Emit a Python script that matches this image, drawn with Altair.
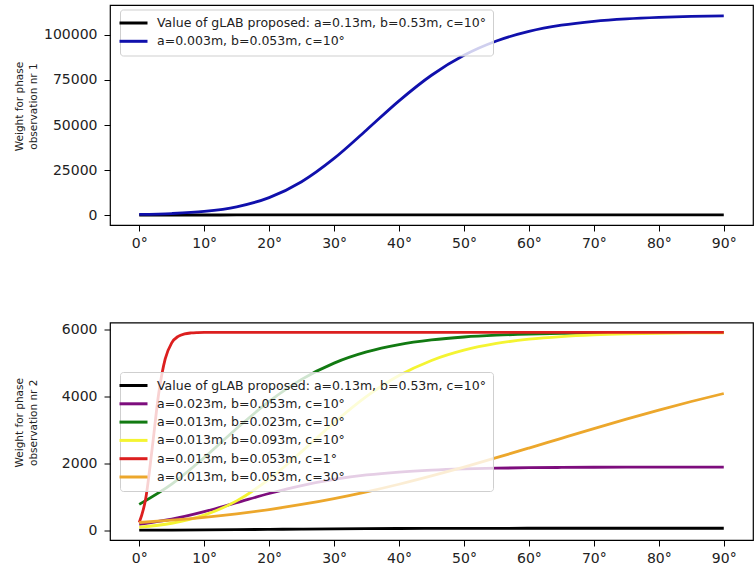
import altair as alt
import pandas as pd

# Elevation angles (degrees)
ELEV = [0, 5, 10, 15, 20, 25, 30, 35, 40, 45, 50, 55, 60, 65, 70, 75, 80, 85, 90]
ELEV_FAST = [0, 1, 2, 3, 4, 5, 6, 7, 8, 9, 10, 15, 20, 25, 30, 35, 40, 45, 50,
             55, 60, 65, 70, 75, 80, 85, 90]

# Series labels
L_GLAB = "Value of gLAB proposed: a=0.13m, b=0.53m, c=10°"
L_BLUE = "a=0.003m, b=0.053m, c=10°"
L_PURPLE = "a=0.023m, b=0.053m, c=10°"
L_GREEN = "a=0.013m, b=0.023m, c=10°"
L_YELLOW = "a=0.013m, b=0.093m, c=10°"
L_RED = "a=0.013m, b=0.053m, c=1°"
L_ORANGE = "a=0.013m, b=0.053m, c=30°"

# Weights
W_GLAB = [2.3, 4.9, 9.5, 16.2, 24.6, 33.2, 40.9, 46.9, 51.2, 54.2, 56.1, 57.3,
          58.0, 58.5, 58.7, 58.9, 59.0, 59.1, 59.1]
W_BLUE = [319, 810, 1976, 4549, 9663, 18508, 31452, 47251, 63423, 77643, 88730,
          96651, 101983, 105434, 107618, 108972, 109804, 110315, 110631]
W_PURPLE = [173, 329, 554, 825, 1098, 1337, 1521, 1652, 1740, 1797, 1833, 1855,
            1869, 1877, 1883, 1886, 1887, 1889, 1889]
W_GREEN = [772, 1377, 2171, 3042, 3852, 4512, 4998, 5332, 5552, 5691, 5779, 5833,
           5866, 5886, 5898, 5906, 5910, 5913, 5915]
W_YELLOW = [89, 208, 449, 878, 1527, 2349, 3217, 4002, 4626, 5078, 5386, 5586,
            5713, 5792, 5841, 5871, 5889, 5900, 5907]
W_RED = [230, 947, 2457, 4089, 5123, 5605, 5799, 5873, 5901, 5911, 5915, 5917,
         5917, 5917, 5917, 5917, 5917, 5917, 5917, 5917, 5917, 5917, 5917, 5917,
         5917, 5917, 5917]
W_ORANGE = [230, 299, 385, 491, 619, 770, 947, 1149, 1375, 1623, 1889, 2169,
            2457, 2749, 3039, 3322, 3593, 3850, 4089]

COL_BLACK = "#000000"
COL_BLUE = "#1010ac"
COL_PURPLE = "#7d0d7d"
COL_GREEN = "#127a12"
COL_YELLOW = "#f4f432"
COL_RED = "#dc1f1f"
COL_ORANGE = "#eca72c"


def long(series):
    rows = []
    for label, xs, ys in series:
        for x, y in zip(xs, ys):
            rows.append({"elev": x, "w": y, "series": label})
    return pd.DataFrame(rows)


top_series = [(L_GLAB, ELEV, W_GLAB), (L_BLUE, ELEV, W_BLUE)]
bot_series = [(L_GLAB, ELEV, W_GLAB), (L_PURPLE, ELEV, W_PURPLE),
              (L_GREEN, ELEV, W_GREEN), (L_YELLOW, ELEV, W_YELLOW),
              (L_RED, ELEV_FAST, W_RED), (L_ORANGE, ELEV, W_ORANGE)]

FONT = "DejaVu Sans"
W = 643


def panel(series, colors, ydomain, yticks, title, height, legend_y):
    df = long(series)
    labels = [s[0] for s in series]
    legend = alt.Legend(
        title=None, orient="none", legendX=10, legendY=legend_y,
        fillColor="rgba(255,255,255,0.8)", strokeColor="#cfcfcf",
        cornerRadius=3, padding=7,
        symbolType="M-2.8,0H2.8", symbolSize=100, symbolStrokeWidth=3,
        labelFont=FONT, labelFontSize=12.5, labelColor="#222222",
        labelOffset=17, labelLimit=0, rowPadding=5.3,
    )
    return alt.Chart(df).mark_line(strokeWidth=2.8, interpolate="monotone").encode(
        x=alt.X("elev:Q",
                scale=alt.Scale(domain=[-4.5, 94.5], nice=False, zero=False),
                axis=alt.Axis(values=list(range(0, 91, 10)),
                              labelExpr="datum.value + '°'", title=None,
                              grid=False, domain=False, tickSize=6,
                              tickColor="#000000", labelFont=FONT,
                              labelFontSize=14, labelColor="#222222",
                              labelPadding=5)),
        y=alt.Y("w:Q",
                scale=alt.Scale(domain=ydomain, nice=False, zero=False),
                axis=alt.Axis(values=yticks, format="d", title=title,
                              grid=False, domain=False, tickSize=6,
                              tickColor="#000000", labelFont=FONT,
                              labelFontSize=14, labelColor="#222222",
                              labelPadding=7, titleFont=FONT,
                              titleFontSize=10.5, titleFontWeight="normal",
                              titleColor="#222222", titleLineHeight=14,
                              titleAngle=270, titleBaseline="bottom",
                              titleAlign="center", titleX=-86,
                              titleY=height / 2 - 9)),
        color=alt.Color("series:N",
                        scale=alt.Scale(domain=labels, range=colors),
                        sort=labels, legend=legend),
    ).properties(width=W, height=height)


top = panel(top_series, [COL_BLACK, COL_BLUE], [-5555, 116666],
            [0, 25000, 50000, 75000, 100000],
            ["Weight for phase", "observation nr 1"], 220, 4.5)
bottom = panel(bot_series,
               [COL_BLACK, COL_PURPLE, COL_GREEN, COL_YELLOW, COL_RED, COL_ORANGE],
               [-293, 6213], [0, 2000, 4000, 6000],
               ["Weight for phase", "observation nr 2"], 217.5, 49.5)

chart = alt.vconcat(top, bottom, spacing=97.5, bounds="flush").resolve_scale(
    color="independent"
).properties(
    padding={"left": 13, "top": 4, "right": 0, "bottom": 0},
    background="white",
).configure_view(stroke="#000000", strokeWidth=1.2)

chart.save("out.html", embed_options={"renderer": "svg", "actions": False})
